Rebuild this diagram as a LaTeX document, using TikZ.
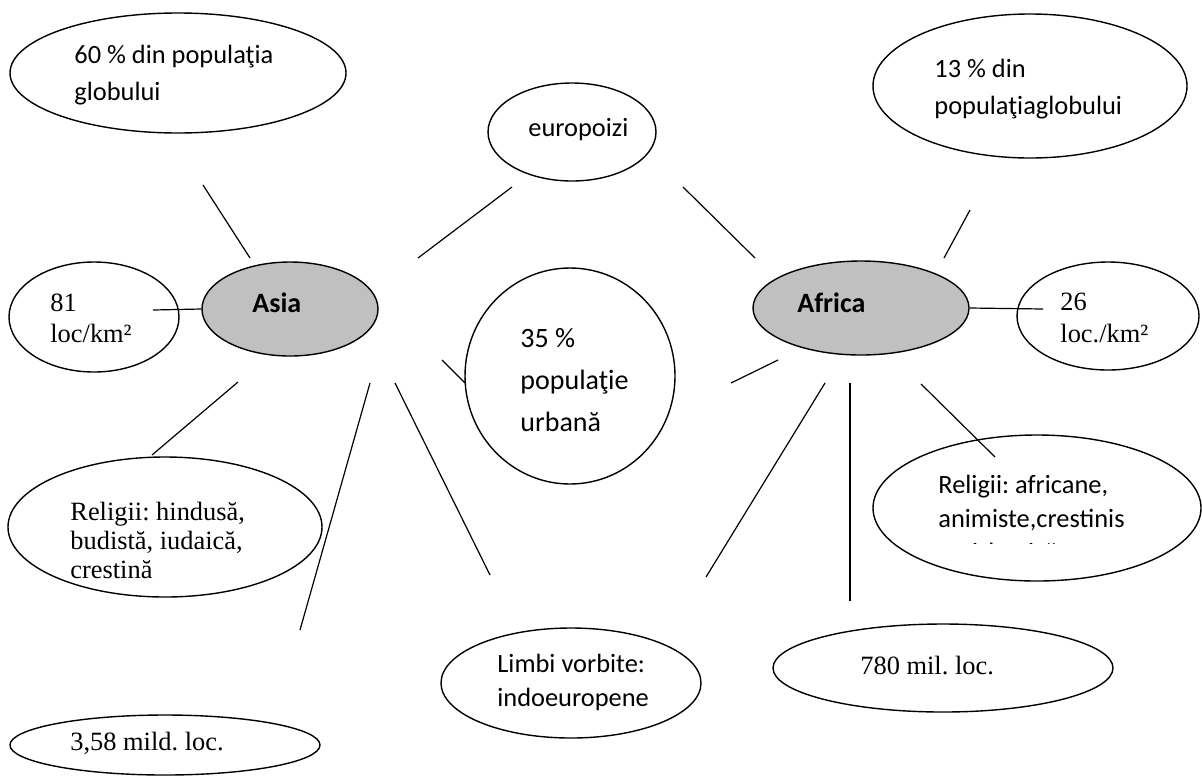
\documentclass[tikz,border=0pt]{standalone}
\usepackage{fontspec}
\setmainfont{Carlito}
\newfontfamily\tnr{Liberation Serif}
\usetikzlibrary{shapes.geometric}

\definecolor{contgray}{RGB}{192,192,192}

\tikzset{
  bula/.style={draw, ellipse, line width=0.7pt, inner sep=0pt},
  cont/.style={bula, fill=contgray},
  txt/.style={anchor=base west, align=left, inner sep=0pt,
    font=\fontsize{13.2}{18.5}\selectfont},
  txtr/.style={anchor=base west, align=left, inner sep=0pt,
    font=\tnr\fontsize{13.2}{14.5}\selectfont},
  leg/.style={line width=0.6pt}
}

\begin{document}
\frenchspacing
\begin{tikzpicture}[x=0.5pt, y=-0.5pt]

    \useasboundingbox (0,0) rectangle (1202,782);

    % Elipse
    \node[bula, minimum width=168pt, minimum height=60pt] (pop60) at (178,73) {};
    \node[bula, minimum width=157pt, minimum height=72pt] (pop13) at (1030,86) {};
    \node[bula, minimum width=84pt, minimum height=49pt] (euro) at (572,132) {};
    \node[cont, minimum width=88pt, minimum height=47pt] (asia) at (290,309) {};
    \node[cont, minimum width=108pt, minimum height=47pt] (africa) at (861,308) {};
    \node[bula, minimum width=85pt, minimum height=55pt] (dens81) at (94,317) {};
    \node[bula, minimum width=91pt, minimum height=54pt] (dens26) at (1108,316) {};
    \node[bula, minimum width=105pt, minimum height=108pt] (urban) at (570,376) {};
    \node[bula, minimum width=157pt, minimum height=70pt] (relas) at (165,527) {};
    \node[bula, minimum width=164pt, minimum height=73pt] (relaf) at (1037,508) {};
    \node[bula, minimum width=130pt, minimum height=55pt] (limbi) at (571,683) {};
    \node[bula, minimum width=170pt, minimum height=44pt] (pop780) at (943,668) {};
    \node[bula, minimum width=155pt, minimum height=30pt] (pop358) at (165,745) {};

    % Texte
    \node[txt] (pop60t) at (74,100) {60 \% din populaţia\\globului};
    \node[txt] (pop13t) at (934,114) {13 \% din\\populaţiaglobului};
    \node[txt] (eurot) at (528,136) {europoizi};
    \node[txt, font=\bfseries\fontsize{14}{16}\selectfont] (asiat) at (252,312) {Asia};
    \node[txt, font=\bfseries\fontsize{14}{16}\selectfont] (africat) at (797,312) {Africa};
    \node[txtr, font=\tnr\fontsize{13.2}{15.5}\selectfont] (dens81t) at (50,342) {81\\loc/km²};
    \node[txtr, font=\tnr\fontsize{13.2}{16}\selectfont] (dens26t) at (1060,342) {26\\loc./km²};
    \node[txt, font=\fontsize{14}{21}\selectfont] (urbant) at (520,431) {35 \%\\populaţie\\urbană};
    \node[txtr] (relast) at (70,578) {Religii: hindusă,\\budistă, iudaică,\\crestină};
    \begin{scope}
      \clip (880,440) rectangle (1202,543);
      \node[txt, font=\fontsize{13.2}{17}\selectfont] (relaft) at (938,561)
        {Religii: africane,\\animiste,crestinis\\m, islamică};
    \end{scope}
    \node[txt, font=\fontsize{13.2}{17}\selectfont] (limbit) at (497,706) {Limbi vorbite:\\indoeuropene};
    \node[txtr] (pop780t) at (860,674) {780 mil. loc.};
    \node[txtr] (pop358t) at (70,750) {3,58 mild. loc.};

    % Capete de linii
    \coordinate (a1) at (250,258);  \coordinate (b1) at (203,185);
    \coordinate (b2) at (153,310);
    \coordinate (a3) at (418,258);  \coordinate (b3) at (512,187);
    \coordinate (a4) at (755,258);  \coordinate (b4) at (683,187);
    \coordinate (a5) at (944,258);  \coordinate (b5) at (970,210);
    \coordinate (b6) at (1043,309);
    \coordinate (a7) at (442,360);  \coordinate (b7) at (465,383);
    \coordinate (a8) at (778,360);  \coordinate (b8) at (731,383);
    \coordinate (a9) at (238,382);  \coordinate (b9) at (152,455);
    \coordinate (a10) at (370,383); \coordinate (b10) at (300,630);
    \coordinate (a11) at (395,383); \coordinate (b11) at (490,575);
    \coordinate (a12) at (825,383); \coordinate (b12) at (706,577);
    \coordinate (a13) at (850,383); \coordinate (b13) at (850,601);
    \coordinate (a14) at (921,384); \coordinate (b14) at (995,457);

    % Linii
    \draw[leg] (a1) -- (b1);
    \draw[leg] (asia.west) -- (b2);
    \draw[leg] (a3) -- (b3);
    \draw[leg] (a4) -- (b4);
    \draw[leg] (a5) -- (b5);
    \draw[leg] (africa.east) -- (b6);
    \draw[leg] (a7) -- (b7);
    \draw[leg] (a8) -- (b8);
    \draw[leg] (a9) -- (b9);
    \draw[leg] (a10) -- (b10);
    \draw[leg] (a11) -- (b11);
    \draw[leg] (a12) -- (b12);
    \draw[leg] (a13) -- (b13);
    \draw[leg] (a14) -- (b14);

\end{tikzpicture}
\end{document}
